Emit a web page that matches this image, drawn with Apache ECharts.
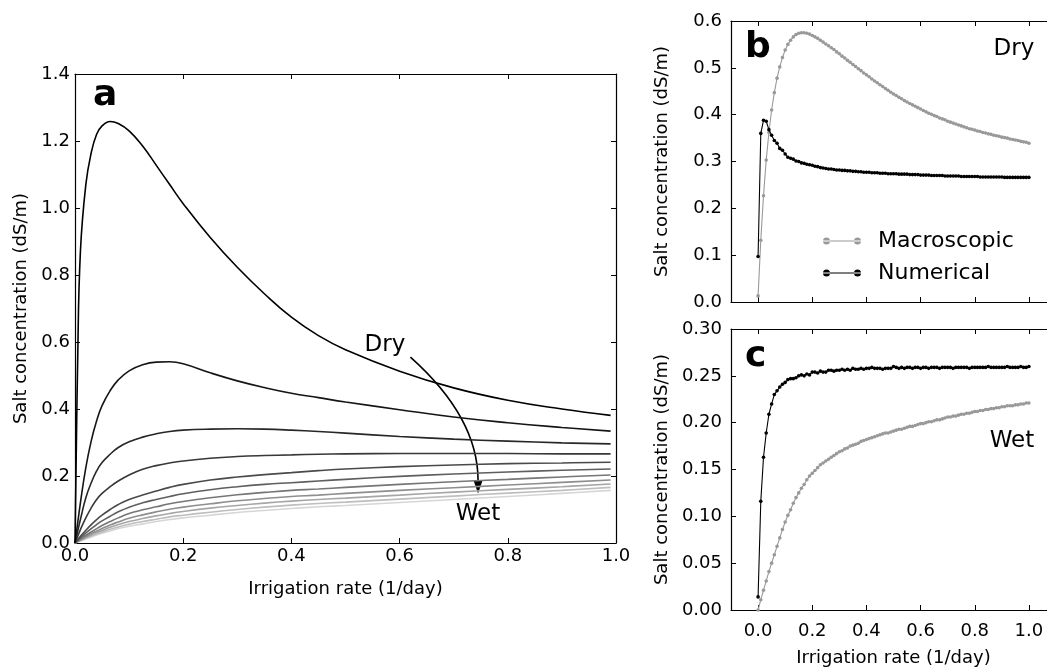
<!DOCTYPE html>
<html><head><meta charset="utf-8">
<script src="https://cdn.jsdelivr.net/npm/echarts@6/dist/echarts.min.js"></script>
<style>html,body{margin:0;padding:0;background:#fff}#c{width:1047px;height:668px}</style>
</head><body><div id="c"></div>
<script>
// ---------- Panel a data ----------
const xA = [0, 0.005, 0.01, 0.02, 0.03, 0.04, 0.05, 0.065, 0.08, 0.1, 0.125, 0.15, 0.175, 0.2, 0.25, 0.3, 0.35, 0.4, 0.45, 0.5, 0.6, 0.7, 0.8, 0.9, 0.99];
const curve1 = [0, 0.55, 0.87, 1.07, 1.165, 1.22, 1.245, 1.258, 1.252, 1.23, 1.185, 1.128, 1.07, 1.013, 0.912, 0.823, 0.744, 0.674, 0.619, 0.577, 0.513, 0.463, 0.426, 0.400, 0.381];
const curve2 = [0, 0.06, 0.12, 0.225, 0.305, 0.365, 0.41, 0.455, 0.487, 0.514, 0.532, 0.54, 0.541, 0.535, 0.508, 0.484, 0.464, 0.447, 0.434, 0.421, 0.398, 0.376, 0.359, 0.345, 0.334];
const curve3 = [0, 0.035, 0.07, 0.135, 0.18, 0.215, 0.24, 0.265, 0.285, 0.302, 0.316, 0.326, 0.333, 0.337, 0.340, 0.341, 0.340, 0.337, 0.333, 0.328, 0.318, 0.31, 0.304, 0.299, 0.296];
const curve4 = [0, 0.02, 0.04, 0.075, 0.105, 0.13, 0.148, 0.168, 0.185, 0.203, 0.22, 0.231, 0.239, 0.245, 0.253, 0.258, 0.261, 0.263, 0.265, 0.266, 0.267, 0.267, 0.267, 0.266, 0.266];
const curve5 = [0, 0.01, 0.02, 0.038, 0.055, 0.07, 0.083, 0.1, 0.115, 0.13, 0.143, 0.155, 0.166, 0.175, 0.188, 0.197, 0.204, 0.210, 0.216, 0.221, 0.228, 0.233, 0.237, 0.239, 0.241];
const curve6 = [0, 0.008, 0.016, 0.03, 0.043, 0.055, 0.066, 0.08, 0.093, 0.107, 0.12, 0.13, 0.139, 0.147, 0.159, 0.168, 0.175, 0.18, 0.185, 0.19, 0.199, 0.206, 0.212, 0.217, 0.221];
const curve7 = [0, 0.006, 0.012, 0.023, 0.033, 0.043, 0.052, 0.064, 0.075, 0.088, 0.099, 0.108, 0.117, 0.124, 0.135, 0.144, 0.151, 0.157, 0.161, 0.166, 0.175, 0.183, 0.19, 0.197, 0.203];
const curve8 = [0, 0.005, 0.01, 0.019, 0.028, 0.036, 0.043, 0.054, 0.063, 0.074, 0.084, 0.093, 0.101, 0.107, 0.117, 0.126, 0.133, 0.139, 0.143, 0.148, 0.157, 0.165, 0.173, 0.181, 0.188];
const curve9 = [0, 0.004, 0.008, 0.016, 0.024, 0.031, 0.037, 0.047, 0.055, 0.064, 0.073, 0.081, 0.088, 0.094, 0.104, 0.112, 0.119, 0.125, 0.130, 0.134, 0.143, 0.152, 0.16, 0.168, 0.176];
const curve10 = [0, 0.0035, 0.007, 0.014, 0.021, 0.027, 0.033, 0.041, 0.048, 0.056, 0.064, 0.071, 0.078, 0.083, 0.092, 0.1, 0.107, 0.113, 0.118, 0.122, 0.131, 0.14, 0.149, 0.157, 0.166];
const curve11 = [0, 0.003, 0.006, 0.012, 0.018, 0.024, 0.029, 0.036, 0.043, 0.05, 0.057, 0.064, 0.07, 0.075, 0.083, 0.091, 0.097, 0.103, 0.108, 0.112, 0.121, 0.13, 0.139, 0.148, 0.157];

// ---------- Panels b and c data ----------
const xBC = [0.00,0.01,0.02,0.03,0.04,0.05,0.06,0.07,0.08,0.09,
 0.10,0.11,0.12,0.13,0.14,0.15,0.16,0.17,0.18,0.19,
 0.20,0.21,0.22,0.23,0.24,0.25,0.26,0.27,0.28,0.29,
 0.30,0.31,0.32,0.33,0.34,0.35,0.36,0.37,0.38,0.39,
 0.40,0.41,0.42,0.43,0.44,0.45,0.46,0.47,0.48,0.49,
 0.50,0.51,0.52,0.53,0.54,0.55,0.56,0.57,0.58,0.59,
 0.60,0.61,0.62,0.63,0.64,0.65,0.66,0.67,0.68,0.69,
 0.70,0.71,0.72,0.73,0.74,0.75,0.76,0.77,0.78,0.79,
 0.80,0.81,0.82,0.83,0.84,0.85,0.86,0.87,0.88,0.89,
 0.90,0.91,0.92,0.93,0.94,0.95,0.96,0.97,0.98,0.99,
 1.00];
const macroDry = [0.013,0.132,0.227,0.303,0.362,0.410,0.447,0.478,0.502,0.522,
 0.538,0.550,0.559,0.566,0.571,0.574,0.575,0.575,0.574,0.572,
 0.569,0.566,0.563,0.559,0.555,0.551,0.547,0.543,0.539,0.534,
 0.530,0.525,0.521,0.516,0.512,0.507,0.503,0.498,0.494,0.489,
 0.485,0.481,0.476,0.472,0.468,0.464,0.460,0.456,0.452,0.448,
 0.444,0.441,0.437,0.434,0.430,0.427,0.424,0.421,0.418,0.415,
 0.412,0.409,0.406,0.403,0.401,0.398,0.396,0.393,0.391,0.389,
 0.386,0.384,0.382,0.380,0.378,0.376,0.374,0.372,0.370,0.369,
 0.367,0.365,0.364,0.362,0.361,0.359,0.358,0.356,0.355,0.354,
 0.352,0.351,0.350,0.348,0.347,0.346,0.345,0.343,0.342,0.341,
 0.339];
const numDry = [0.097,0.360,0.388,0.386,0.368,0.356,0.345,0.339,0.328,0.324,
 0.316,0.309,0.307,0.305,0.301,0.300,0.297,0.296,0.294,0.293,
 0.292,0.290,0.289,0.287,0.286,0.285,0.284,0.284,0.283,0.282,
 0.282,0.281,0.281,0.280,0.280,0.279,0.279,0.278,0.278,0.277,
 0.277,0.277,0.276,0.276,0.276,0.275,0.275,0.275,0.274,0.274,
 0.274,0.274,0.273,0.273,0.273,0.273,0.272,0.272,0.272,0.272,
 0.271,0.271,0.271,0.271,0.270,0.270,0.270,0.270,0.270,0.269,
 0.269,0.269,0.269,0.269,0.269,0.268,0.268,0.268,0.268,0.268,
 0.268,0.268,0.267,0.267,0.267,0.267,0.267,0.267,0.267,0.267,
 0.267,0.266,0.266,0.266,0.266,0.266,0.266,0.266,0.266,0.266,
 0.266];
const macroWet = [0.000,0.011,0.021,0.031,0.041,0.050,0.059,0.068,0.077,0.086,
 0.094,0.101,0.107,0.114,0.120,0.125,0.130,0.134,0.139,0.143,
 0.146,0.149,0.152,0.155,0.157,0.159,0.161,0.163,0.165,0.167,
 0.169,0.170,0.172,0.173,0.175,0.176,0.177,0.178,0.180,0.181,
 0.182,0.183,0.184,0.185,0.186,0.187,0.188,0.189,0.189,0.190,
 0.191,0.192,0.193,0.193,0.194,0.195,0.196,0.196,0.197,0.198,
 0.199,0.199,0.200,0.201,0.201,0.202,0.203,0.203,0.204,0.205,
 0.206,0.206,0.207,0.207,0.208,0.209,0.209,0.210,0.210,0.211,
 0.212,0.212,0.213,0.213,0.214,0.214,0.215,0.215,0.216,0.216,
 0.217,0.217,0.218,0.218,0.218,0.219,0.219,0.220,0.220,0.221,
 0.221];
const numWet = [0.014,0.116,0.163,0.189,0.209,0.220,0.230,0.234,0.238,0.241,
 0.243,0.246,0.247,0.247,0.248,0.250,0.251,0.250,0.252,0.251,
 0.254,0.254,0.253,0.255,0.254,0.254,0.256,0.256,0.255,0.256,
 0.256,0.257,0.256,0.257,0.256,0.258,0.257,0.257,0.258,0.257,
 0.258,0.258,0.259,0.258,0.258,0.258,0.257,0.258,0.258,0.258,
 0.260,0.259,0.258,0.259,0.258,0.259,0.259,0.258,0.259,0.259,
 0.258,0.259,0.259,0.258,0.259,0.259,0.259,0.258,0.259,0.259,
 0.259,0.259,0.258,0.259,0.259,0.259,0.259,0.259,0.258,0.259,
 0.259,0.259,0.259,0.259,0.259,0.260,0.259,0.259,0.259,0.259,
 0.259,0.259,0.260,0.259,0.259,0.259,0.259,0.260,0.259,0.259,
 0.260];

// tick labels
const ticksBC = [0, 0.2, 0.4, 0.6, 0.8, 1.0];
const seriesNames = ['Macroscopic', 'Numerical'];
const axisTitleX = 'Irrigation rate (1/day)';
const axisTitleY = 'Salt concentration (dS/m)';

// ---------- styles ----------
const curvesA = [curve1, curve2, curve3, curve4, curve5, curve6, curve7, curve8, curve9, curve10, curve11];
const curveColors = ['#000000','#151515','#272727','#383838','#4a4a4a','#5f5f5f','#767676','#8e8e8e','#a6a6a6','#bebebe','#d6d6d6'];
const FONT = '"DejaVu Sans", "Liberation Sans", sans-serif';

const chart = echarts.init(document.getElementById('c'), null, {renderer: 'canvas'});

function baseAxis() {
  return {
    type: 'value',
    axisLine: {show: true, onZero: false, lineStyle: {color: '#000', width: 1.2}},
    axisTick: {show: true, inside: true, length: 5, lineStyle: {color: '#000', width: 1}},
    splitLine: {show: false},
    axisLabel: {show: true, color: '#000', fontSize: 18, fontFamily: FONT},
    nameTextStyle: {color: '#000', fontSize: 18, fontFamily: FONT}
  };
}
function mergeDeep(a, b) {
  for (const k in b) {
    if (b[k] && typeof b[k] === 'object' && !Array.isArray(b[k]) && a[k] && typeof a[k] === 'object') mergeDeep(a[k], b[k]);
    else a[k] = b[k];
  }
  return a;
}
function ax(extra) { return mergeDeep(baseAxis(), extra); }

const xAxes = [
  ax({gridIndex: 0, position: 'bottom', min: 0, max: 1, interval: 0.2,
      axisLabel: {margin: 4, formatter: v => v.toFixed(1)},
      name: axisTitleX, nameLocation: 'middle', nameGap: 37}),
  ax({gridIndex: 0, position: 'top', min: 0, max: 1, interval: 0.2, axisLabel: {show: false}}),
  ax({gridIndex: 1, position: 'bottom', min: -0.1, max: 1.1,
      axisTick: {customValues: ticksBC}, axisLabel: {show: false}}),
  ax({gridIndex: 1, position: 'top', min: -0.1, max: 1.1,
      axisTick: {customValues: ticksBC}, axisLabel: {show: false}}),
  ax({gridIndex: 2, position: 'bottom', min: -0.1, max: 1.1,
      axisTick: {customValues: ticksBC},
      axisLabel: {margin: 12, customValues: ticksBC, formatter: v => v.toFixed(1)},
      name: axisTitleX, nameLocation: 'middle', nameGap: 39}),
  ax({gridIndex: 2, position: 'top', min: -0.1, max: 1.1,
      axisTick: {customValues: ticksBC}, axisLabel: {show: false}})
];
const yAxes = [
  ax({gridIndex: 0, position: 'left', min: 0, max: 1.4, interval: 0.2,
      axisLabel: {margin: 5, formatter: v => v.toFixed(1)},
      name: axisTitleY, nameLocation: 'middle', nameGap: 44}),
  ax({gridIndex: 0, position: 'right', min: 0, max: 1.4, interval: 0.2, axisLabel: {show: false}}),
  ax({gridIndex: 1, position: 'left', min: 0, max: 0.6, interval: 0.1,
      axisLabel: {margin: 9, formatter: v => v.toFixed(1)},
      name: axisTitleY, nameLocation: 'middle', nameGap: 60}),
  ax({gridIndex: 1, position: 'right', min: 0, max: 0.6, interval: 0.1, axisLabel: {show: false}}),
  ax({gridIndex: 2, position: 'left', min: 0, max: 0.3, interval: 0.05,
      axisLabel: {margin: 9, formatter: v => v.toFixed(2)},
      name: axisTitleY, nameLocation: 'middle', nameGap: 60}),
  ax({gridIndex: 2, position: 'right', min: 0, max: 0.3, interval: 0.05, axisLabel: {show: false}})
];

const series = [];
curvesA.forEach((c, i) => {
  series.push({
    type: 'line', xAxisIndex: 0, yAxisIndex: 0, showSymbol: false, symbol: 'none',
    smooth: 0.45,
    lineStyle: {color: curveColors[i], width: 1.6},
    itemStyle: {color: curveColors[i]},
    data: xA.map((x, k) => [x, c[k]]),
    silent: true, z: 20 - i
  });
});
function dotted(name, xi, ys, color, z) {
  return {
    name: name, type: 'line', xAxisIndex: xi, yAxisIndex: xi,
    symbol: 'circle', symbolSize: 3.6, showSymbol: true, showAllSymbol: true,
    lineStyle: {color: color, width: 1.1}, itemStyle: {color: color},
    data: xBC.map((x, k) => [x, ys[k]]), z: z, silent: true
  };
}
series.push(dotted(seriesNames[0], 2, macroDry, '#999999', 2));
series.push(dotted(seriesNames[1], 2, numDry, '#000000', 3));
series.push(dotted(seriesNames[0], 4, macroWet, '#999999', 2));
series.push(dotted(seriesNames[1], 4, numWet, '#000000', 3));

const legendIcon = 'path://M0,2.9H38V4.1H0Z M0,3.5A3.5,3.5 0 1,0 7,3.5A3.5,3.5 0 1,0 0,3.5Z M31,3.5A3.5,3.5 0 1,0 38,3.5A3.5,3.5 0 1,0 31,3.5Z';

chart.setOption({
  animation: false,
  backgroundColor: '#fff',
  grid: [
    {left: 75, top: 74, width: 541, height: 469, outerBoundsMode: 'none', containLabel: false},
    {left: 731, top: 21, width: 325, height: 281, outerBoundsMode: 'none', containLabel: false},
    {left: 731, top: 329, width: 325, height: 281, outerBoundsMode: 'none', containLabel: false}
  ],
  xAxis: xAxes,
  yAxis: yAxes,
  legend: {
    data: seriesNames, orient: 'vertical', left: 818, top: 225,
    icon: legendIcon, itemWidth: 38, itemHeight: 7, itemGap: 10,
    selectedMode: false,
    textStyle: {color: '#000', fontSize: 22, fontFamily: FONT, lineHeight: 22, padding: [0, 0, 0, 12]}
  },
  series: series
});

// ---------- annotations ----------
const P = (x, y) => chart.convertToPixel({xAxisIndex: 0, yAxisIndex: 0}, [x, y]);
const s = P(0.62, 0.555), cp = P(0.745, 0.375), e = P(0.745, 0.148);
const dx = e[0] - cp[0], dy = e[1] - cp[1], L = Math.hypot(dx, dy);
const ux = dx / L, uy = dy / L, hl = 13, hw = 4.5;
const bx = e[0] - ux * hl, by = e[1] - uy * hl;
const txt = (t, x, y, size, bold, align) => ({
  type: 'text', x: x, y: y, silent: true,
  style: {text: t, fill: '#000', fontSize: size, fontFamily: FONT, fontWeight: bold ? 'bold' : 'normal',
          align: align || 'center', verticalAlign: 'middle', textAlign: align || 'center', textVerticalAlign: 'middle'}
});
chart.setOption({
  graphic: [
    {type: 'bezierCurve', silent: true,
     shape: {x1: s[0], y1: s[1], cpx1: cp[0], cpy1: cp[1], x2: bx, y2: by},
     style: {stroke: '#000', lineWidth: 1.6, fill: null}},
    {type: 'polygon', silent: true,
     shape: {points: [[e[0], e[1]], [bx - uy * hw, by + ux * hw], [bx + uy * hw, by - ux * hw]]},
     style: {fill: '#000'}},
    txt('Dry', 385, 345, 23, false),
    txt('Wet', 478, 514, 23, false),
    txt('a', 93, 96, 36, true, 'left'),
    txt('b', 745, 48, 36, true, 'left'),
    txt('c', 745, 357, 36, true, 'left'),
    txt('Dry', 1014, 49, 23, false),
    txt('Wet', 1012, 441, 23, false)
  ]
});
</script>
</body></html>
